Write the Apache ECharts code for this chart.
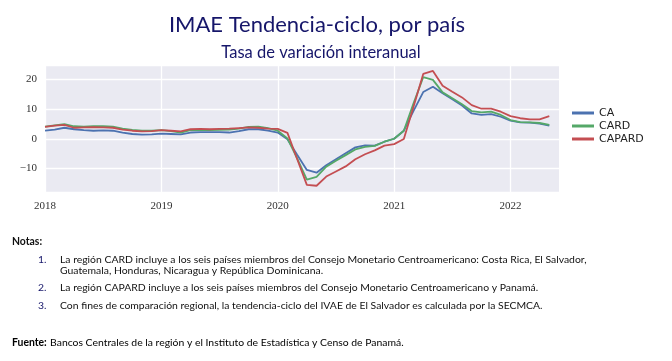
<!DOCTYPE html>
<html><head><meta charset="utf-8">
<script src="https://cdn.jsdelivr.net/npm/echarts@6/dist/echarts.min.js"></script>
<style>html,body{margin:0;padding:0;background:#fff}#c{width:672px;height:361px}</style>
</head><body><div id="c"></div>
<script>
const months = [];
for (let y = 2018; y <= 2022; y++) for (let m = 1; m <= 12; m++) { if (y === 2022 && m > 6) break; months.push(y + '-' + String(m).padStart(2, '0')); }
const xTickLabels = ['2018', '2019', '2020', '2021', '2022'];
const yTickLabels = ['−10', '0', '10', '20'];
const CA = [2.7,3.1,3.7,3.2,2.9,2.7,2.8,2.7,2.1,1.6,1.4,1.5,
  1.7,1.6,1.5,2.1,2.2,2.2,2.2,2.1,2.6,3.2,3.2,2.7,
  2.1,-0.2,-5.4,-10.5,-11.4,-8.9,-6.9,-4.9,-2.9,-2.2,-2.3,-1.0,
  0.0,2.7,9.4,15.7,17.5,15.3,13.3,11.2,8.5,8.0,8.3,7.4,
  6.1,5.5,5.4,5.1,4.4,null];
const CARD = [4.1,4.5,4.9,4.2,4.1,4.2,4.2,4.1,3.4,3.0,2.7,2.7,
  2.9,2.6,2.1,2.9,3.0,2.9,3.0,3.1,3.4,4.0,4.1,3.6,
  2.7,0.1,-6.6,-13.7,-12.8,-9.4,-7.4,-5.5,-3.6,-2.7,-2.4,-1.0,
  0.0,2.7,11.9,20.7,19.8,15.6,13.6,11.6,9.3,8.9,9.1,8.0,
  6.3,5.6,5.5,5.3,4.7,null];
const CAPARD = [4.0,4.4,4.7,3.7,3.8,3.9,3.8,3.7,3.1,2.7,2.5,2.6,
  2.9,2.7,2.5,3.2,3.3,3.2,3.3,3.4,3.6,3.8,3.7,3.4,
  3.3,2.0,-6.8,-15.5,-15.8,-12.7,-11.0,-9.3,-6.9,-5.2,-3.9,-2.3,
  -1.8,-0.1,10.8,21.8,22.8,17.8,15.8,13.9,11.3,10.1,10.1,9.1,
  7.6,6.9,6.5,6.5,7.6,null];
const seriesNames = ['CA', 'CARD', 'CAPARD'];
const seriesColors = ['#4C72B0', '#55A868', '#C44E52'];
const seriesData = [CA, CARD, CAPARD];

const NAVY = '#16166a';
const FF = 'Lato, "Noto Sans", sans-serif';
const notes = [
  ['1.', 'La región CARD incluye a los seis países miembros del Consejo Monetario Centroamericano: Costa Rica, El Salvador,'],
  ['', 'Guatemala, Honduras, Nicaragua y República Dominicana.'],
  ['2.', 'La región CAPARD incluye a los seis países miembros del Consejo Monetario Centroamericano y Panamá.'],
  ['3.', 'Con fines de comparación regional, la tendencia-ciclo del IVAE de El Salvador es calculada por la SECMCA.']
];
const noteY = [261, 272, 289, 307];
const NF = '10.4px ' + FF;

const graphics = [
  {type:'text', left:12, top:237, style:{text:'Notas:', font:'bold 10.4px ' + FF, fill:'#111'}}
];
notes.forEach((n, i) => {
  if (n[0]) graphics.push({type:'text', left:38, top:noteY[i]-6, style:{text:n[0], font:NF, fill:NAVY}});
  graphics.push({type:'text', left:60, top:noteY[i]-6, style:{text:n[1], font:NF, fill:'#111'}});
});
graphics.push({type:'text', left:12, top:337, style:{rich:{a:{fontFamily:FF, fontSize:10.4, color:NAVY, fontWeight:'bold'}, b:{fontFamily:FF, fontSize:10.4, color:'#111'}}, text:'{a|Fuente:} {b|Bancos Centrales de la región y el Instituto de Estadística y Censo de Panamá.}'}});

const chart = echarts.init(document.getElementById('c'), null, {renderer:'canvas'});
chart.setOption({
  animation:false,
  backgroundColor:'#fff',
  title:[
    {text:'IMAE Tendencia-ciclo, por país', left:312, top:9, textAlign:'center', textStyle:{fontFamily:FF, fontSize:22, fontWeight:'normal', color:NAVY}},
    {text:'Tasa de variación interanual', left:316, top:39, textAlign:'center', textStyle:{fontFamily:FF, fontSize:16.5, fontWeight:'normal', color:NAVY}}
  ],
  legend:{
    orient:'vertical', left:567, top:102, itemWidth:22, itemHeight:3, itemGap:1, icon:'rect',
    data:seriesNames,
    textStyle:{fontFamily:'"DejaVu Sans", sans-serif', fontSize:11, lineHeight:12, color:'#222', padding:[0,0,0,0]}
  },
  grid:{left:45, top:65, width:514, height:127, backgroundColor:'#EAEAF2', show:true, borderWidth:0},
  xAxis:{
    type:'category', data:months, boundaryGap:false,
    axisLine:{show:false}, axisTick:{show:false},
    axisLabel:{interval:(i, v) => v.endsWith('-01'), formatter:(v) => xTickLabels[parseInt(v) - 2018] || '', fontFamily:'"Liberation Serif", serif', fontSize:11, color:'#333', margin:9},
    splitLine:{show:true, interval:(i, v) => v.endsWith('-01'), lineStyle:{color:'#fff', width:1.3}}
  },
  yAxis:{
    type:'value', min:-17.9, max:24.8,
    axisLine:{show:false}, axisTick:{show:false},
    axisLabel:{showMinLabel:false, showMaxLabel:false, fontFamily:'"Liberation Serif", serif', fontSize:11, color:'#333', margin:8,
      formatter:(v) => { const i = [-10,0,10,20].indexOf(Math.round(v*10)/10); return i >= 0 ? yTickLabels[i] : ''; }},
    splitLine:{lineStyle:{color:'#fff', width:1.3}}
  },
  series:seriesNames.map((n, i) => ({
    name:n, type:'line', data:seriesData[i], showSymbol:false, symbol:'none',
    lineStyle:{color:seriesColors[i], width:1.8}, itemStyle:{color:seriesColors[i]}
  })),
  graphic:graphics
});
</script></body></html>
